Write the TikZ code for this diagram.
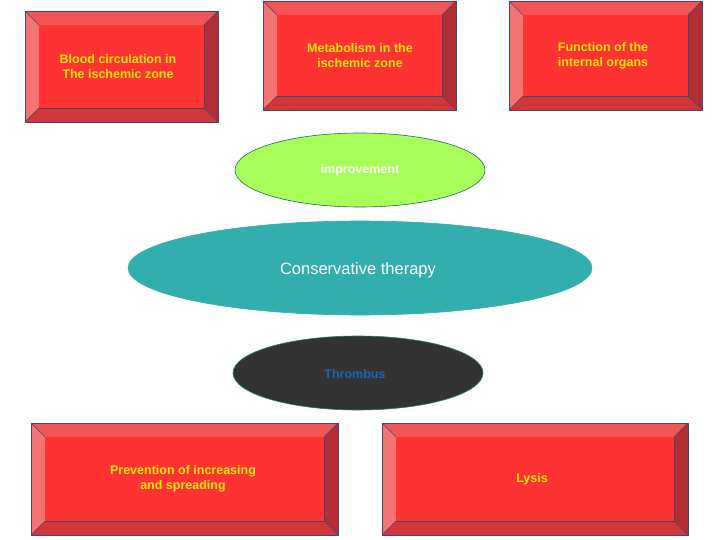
\documentclass[tikz,border=0pt]{standalone}
\usepackage{fontspec}
\setmainfont{Liberation Sans}
\definecolor{face}{HTML}{FF3333}
\definecolor{btop}{HTML}{F25555}
\definecolor{bleft}{HTML}{F47373}
\definecolor{bright}{HTML}{B02E34}
\definecolor{bbot}{HTML}{D33638}
\definecolor{edge}{HTML}{44466A}
\definecolor{txt}{HTML}{FFE800}
\definecolor{lime}{HTML}{A8FF5A}
\definecolor{teal}{HTML}{33AEAE}
\definecolor{dark}{HTML}{333333}
\definecolor{blu}{HTML}{1A66B0}
\tikzset{
  bev/.style={draw=edge,line width=0.6pt,line join=round},
  boxtext/.style={font=\bfseries\fontsize{12.5}{15}\selectfont,text=txt,align=center},
  ell/.style={ellipse,draw,line width=0.6pt,inner sep=0pt}
}
\usetikzlibrary{shapes.geometric}
% #1 name, #2 x1, #3 y1, #4 x2, #5 y2, #6 bevel
\newcommand\bevbox[6]{%
  \fill[btop] (#2,#3) -- (#4,#3) -- (#4-#6,#3+#6) -- (#2+#6,#3+#6) -- cycle;
  \fill[bleft] (#2,#3) -- (#2+#6,#3+#6) -- (#2+#6,#5-#6) -- (#2,#5) -- cycle;
  \fill[bright] (#4,#3) -- (#4,#5) -- (#4-#6,#5-#6) -- (#4-#6,#3+#6) -- cycle;
  \fill[bbot] (#2,#5) -- (#2+#6,#5-#6) -- (#4-#6,#5-#6) -- (#4,#5) -- cycle;
  \draw[bev] (#2,#3) rectangle (#4,#5);
  \draw[bev] (#2+#6,#3+#6) rectangle (#4-#6,#5-#6);
  \draw[bev] (#2,#3) -- (#2+#6,#3+#6) (#4,#3) -- (#4-#6,#3+#6) (#2,#5) -- (#2+#6,#5-#6) (#4,#5) -- (#4-#6,#5-#6);
  \fill[face] (#2+#6+0.3,#3+#6+0.3) rectangle (#4-#6-0.3,#5-#6-0.3);
}
\begin{document}
\begin{tikzpicture}[x=1pt,y=-1pt]
\useasboundingbox (0,0) rectangle (720,540);
\bevbox{b1}{25}{11}{218}{122}{14}
\bevbox{b2}{263}{1}{456}{110}{14}
\bevbox{b3}{509}{1}{702}{110}{14}
\bevbox{b4}{31}{423}{338}{535}{14}
\bevbox{b5}{382}{423}{688}{535}{14}
\node[boxtext] (t1) at (118,67) {Blood circulation in\\The ischemic zone};
\node[boxtext] (t2) at (360,56) {Metabolism in the\\ischemic zone};
\node[boxtext] (t3) at (603,56) {Function of the\\internal organs};
\node[boxtext] (t4) at (183,479) {Prevention of increasing\\and spreading};
\node[boxtext] (t5) at (532,479) {Lysis};
\node[ell,fill=lime,draw=teal!60!black,minimum width=250,minimum height=74] (imp) at (360,170) {};
\node[font=\bfseries\fontsize{12.5}{15}\selectfont,text=white] at (360,170) {improvement};
\node[ell,fill=teal,draw=teal,minimum width=464,minimum height=94] (ct) at (360,268) {};
\node[font=\fontsize{16.5}{20}\selectfont,text=white] at (358,270) {Conservative therapy};
\node[ell,fill=dark,draw=teal!70!black,minimum width=250,minimum height=74] (thr) at (358,373) {};
\node[font=\bfseries\fontsize{12.5}{15}\selectfont,text=blu] at (355,374) {Thrombus};
\end{tikzpicture}
\end{document}
